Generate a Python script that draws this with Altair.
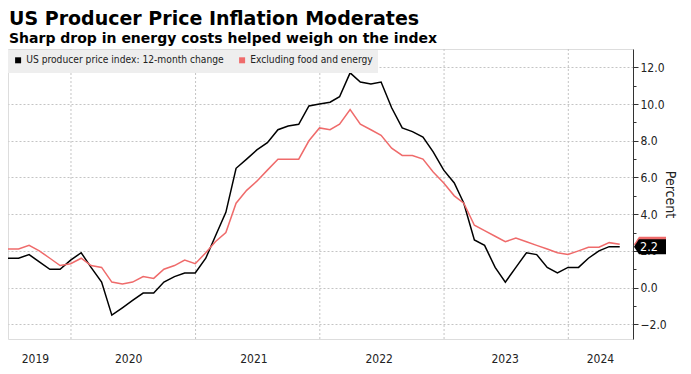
import altair as alt
import pandas as pd

# ---------------- data ----------------
# monthly observations, June 2019 .. May 2024, plotted at month end
months = (pd.date_range("2019-07-01", periods=60, freq="MS") - pd.Timedelta(days=1)).strftime("%Y-%m-%d").tolist()

ppi_all = [
    1.6, 1.6, 1.8, 1.4, 1.0, 1.0, 1.5, 1.9, 1.1, 0.3,
    -1.5, -1.1, -0.7, -0.3, -0.3, 0.3, 0.6, 0.8, 0.8, 1.6,
    2.8, 4.1, 6.5, 7.0, 7.5, 7.9, 8.6, 8.8, 8.9, 9.9,
    10.0, 10.1, 10.4, 11.7, 11.2, 11.1, 11.2, 9.8, 8.7, 8.5,
    8.2, 7.4, 6.4, 5.7, 4.6, 2.6, 2.3, 1.1, 0.3, 1.1,
    1.9, 1.8, 1.1, 0.8, 1.1, 1.1, 1.6, 2.0, 2.23, 2.23,
]
ppi_core = [
    2.1, 2.1, 2.3, 2.0, 1.6, 1.2, 1.3, 1.6, 1.2, 1.1,
    0.3, 0.2, 0.3, 0.6, 0.5, 1.0, 1.2, 1.5, 1.3, 1.9,
    2.5, 3.0, 4.6, 5.3, 5.8, 6.4, 7.0, 7.0, 7.0, 8.0,
    8.7, 8.6, 8.9, 9.7, 8.9, 8.6, 8.3, 7.6, 7.2, 7.2,
    7.0, 6.3, 5.7, 5.0, 4.6, 3.4, 3.1, 2.8, 2.5, 2.7,
    2.5, 2.3, 2.1, 1.9, 1.8, 2.0, 2.2, 2.2, 2.45, 2.36,
]
series_names = ["US producer price index: 12-month change", "Excluding food and energy"]
series_colors = ["#000000", "#ef6b6b"]

year_gridlines = ["2020-01-01", "2021-01-01", "2022-01-01", "2023-01-01", "2024-01-01"]
year_label_dates = ["2019-09-17", "2020-06-17", "2021-06-20", "2022-06-23", "2023-06-28", "2024-04-03"]
x_domain = ["2019-06-30", "2024-07-09"]
y_ticks = list(range(-2, 13))
y_domain = [-2.8, 13.0]


def ms(d):
    return int(pd.Timestamp(d, tz="UTC").value // 10**6)


df = pd.DataFrame({
    "date": months * 2,
    "value": ppi_all + ppi_core,
    "series": [series_names[0]] * len(ppi_all) + [series_names[1]] * len(ppi_core),
})
grid_df = pd.DataFrame({"date": year_gridlines})
end_df = pd.DataFrame({
    "date": [months[-1], months[-1]],
    "value": [ppi_core[-1], ppi_all[-1]],
    "series": [series_names[1], series_names[0]],
    "order_key": [0, 1],
})

LABEL_FONT = "DejaVu Sans Condensed, Liberation Sans, sans-serif"

x_scale = alt.Scale(type="utc", domain=[ms(d) for d in x_domain], nice=False)
y_scale = alt.Scale(domain=y_domain, nice=False, zero=False)
color_scale = alt.Scale(domain=series_names, range=series_colors)

x_axis = alt.Axis(
    values=[ms(d) for d in year_label_dates],
    labelExpr="utcFormat(datum.value, '%Y')",
    ticks=False, tickSize=0, domain=False, grid=False,
    labelPadding=14, labelFont=LABEL_FONT, labelFontSize=12, labelColor="#222222",
    labelAlign="center", title=None,
)
even = "datum.value % 2 === 0"
y_axis = alt.Axis(
    orient="right",
    values=y_ticks,
    labelExpr="datum.value % 2 === 0 ? format(datum.value, '.1f') : ''",
    tickSize={"condition": {"test": even, "value": 5}, "value": 3},
    tickColor="#333333", domainColor="#333333",
    grid=True, gridColor="#c4c4c4", gridDash=[2, 2],
    gridOpacity={"condition": {"test": even, "value": 1}, "value": 0},
    labelFont=LABEL_FONT, labelFontSize=12, labelColor="#222222", labelPadding=2,
    title="Percent", titleFont=LABEL_FONT, titleFontSize=14, titleFontWeight="normal",
    titleColor="#222222", titlePadding=-4,
)

X = alt.X("date:T", scale=x_scale, axis=x_axis)
Y = alt.Y("value:Q", scale=y_scale, axis=y_axis)

grid = alt.Chart(grid_df).mark_rule(color="#c4c4c4", strokeDash=[2, 2], strokeWidth=1).encode(x=X)

lines = alt.Chart(df).mark_line(strokeWidth=1.5).encode(
    x=X,
    y=Y,
    color=alt.Color(
        "series:N", scale=color_scale,
        legend=alt.Legend(
            title=None, orient="none", legendX=0, legendY=1, direction="horizontal",
            fillColor="#eeeeee", padding=5, symbolType="square", symbolSize=9,
            symbolStrokeWidth=3, labelFont=LABEL_FONT, labelFontSize=10.2, labelColor="#222222",
            labelLimit=400, columnPadding=10, labelOffset=3,
        ),
    ),
)

tag_shape = "M -1 0 L -0.69 -0.47 L 1 -0.47 L 1 0.47 L -0.69 0.47 Z"
tags = alt.Chart(end_df).mark_point(shape=tag_shape, size=1024, filled=True, opacity=1).encode(
    x=alt.value(642),
    y=Y,
    color=alt.Color("series:N", scale=color_scale, legend=None),
    order=alt.Order("order_key:Q"),
)

tag_text = alt.Chart(end_df.iloc[[1]]).mark_text(
    color="white", font=LABEL_FONT, fontSize=12.5, align="center", baseline="middle"
).encode(
    x=alt.value(641),
    y=Y,
    text=alt.Text("value:Q", format=".1f"),
)

chart = alt.layer(grid, lines, tags, tag_text).properties(
    width=625,
    height=290,
    autosize=alt.AutoSizeParams(type="none"),
    padding={"left": 0, "top": 41, "right": 50, "bottom": 27},
    title=alt.Title(
        text="US Producer Price Inflation Moderates",
        subtitle="Sharp drop in energy costs helped weigh on the index",
        anchor="start", frame="group", dx=1,
        font="DejaVu Sans", fontSize=19, fontWeight="bold", color="#000000",
        subtitleFont="DejaVu Sans", subtitleFontSize=14, subtitleFontWeight="bold",
        subtitleColor="#000000", subtitlePadding=3, offset=3,
    ),
).configure_view(stroke=None).configure(background="white")

chart.save("out.html", embed_options={"renderer": "svg", "actions": False})
